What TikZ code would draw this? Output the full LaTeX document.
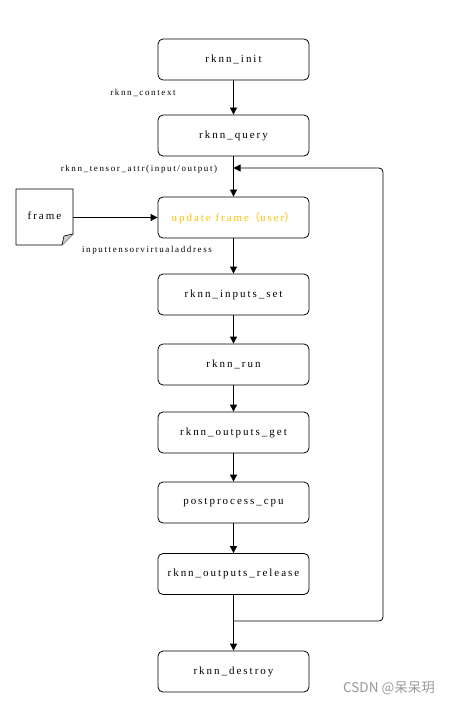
\documentclass[tikz,border=0pt]{standalone}
\usepackage{fontspec}
\setmainfont{Liberation Serif}
\newfontfamily\spaced[LetterSpace=18]{Liberation Serif}
\newfontfamily\cjk{Noto Sans CJK SC}
\usetikzlibrary{arrows.meta}
\definecolor{upd}{HTML}{FFC000}
\begin{document}
\begin{tikzpicture}[x=1pt,y=-1pt,
  box/.style={draw,rounded corners=5pt,minimum width=151pt,minimum height=41pt,font=\spaced\fontsize{11}{13}\selectfont,line width=0.8pt},
  lab/.style={font=\spaced\fontsize{9}{11}\selectfont,inner sep=0pt},
  arr/.style={-{Triangle[length=7pt,width=7pt]},line width=0.8pt}]
\useasboundingbox (0,0) rectangle (453,703);
\fill[white] (0,0) rectangle (453,703);
\node[box] (init) at (233.5,59.5) {rknn\_init};
\node[box] (query) at (233.5,135.5) {rknn\_query};
\node[box,text=upd] (upd) at (233.5,217.5) {update frame{\cjk （}user{\cjk ）}};
\node[box] (set) at (233.5,294.5) {rknn\_inputs\_set};
\node[box] (run) at (233.5,364.5) {rknn\_run};
\node[box] (get) at (233.5,432.5) {rknn\_outputs\_get};
\node[box] (post) at (233.5,502.5) {postprocess\_cpu};
\node[box] (rel) at (233.5,574) {rknn\_outputs\_release};
\node[box] (des) at (233.5,671.5) {rknn\_destroy};
% frame document
\draw[line width=0.8pt] (16,189) -- (73,189) -- (73,234) -- (62,245) -- (16,245) -- cycle;
\filldraw[fill=black!20,line width=0.6pt] (73,234) -- (64,236) -- (62,245);
\coordinate (frame) at (73,217.5);
\node[font=\spaced\fontsize{11}{13}\selectfont] at (44.5,216) {frame};
% arrows
\draw[arr] (init) -- (query);
\draw[arr] (query) -- (upd);
\draw[arr] (frame) -- (upd.west);
\draw[arr] (upd) -- (set);
\draw[arr] (set) -- (run);
\draw[arr] (run) -- (get);
\draw[arr] (get) -- (post);
\draw[arr] (post) -- (rel);
\draw[arr] (rel) -- (des);
\coordinate (j) at (233.5,621);
\coordinate (k) at (233.5,168);
\draw[arr,rounded corners=4pt] (j) -- (383,621) -- (383,168) -- (k);
% labels
\node[lab] at (143,93) {rknn\_context};
\node[lab] at (139,169) {rknn\_tensor\_attr(input/output)};
\node[lab] at (147,250) {inputtensorvirtualaddress};
\node[font=\cjk\fontsize{13.5}{15}\selectfont,text=black!40] at (389,688) {CSDN @呆呆玥};
\end{tikzpicture}
\end{document}
